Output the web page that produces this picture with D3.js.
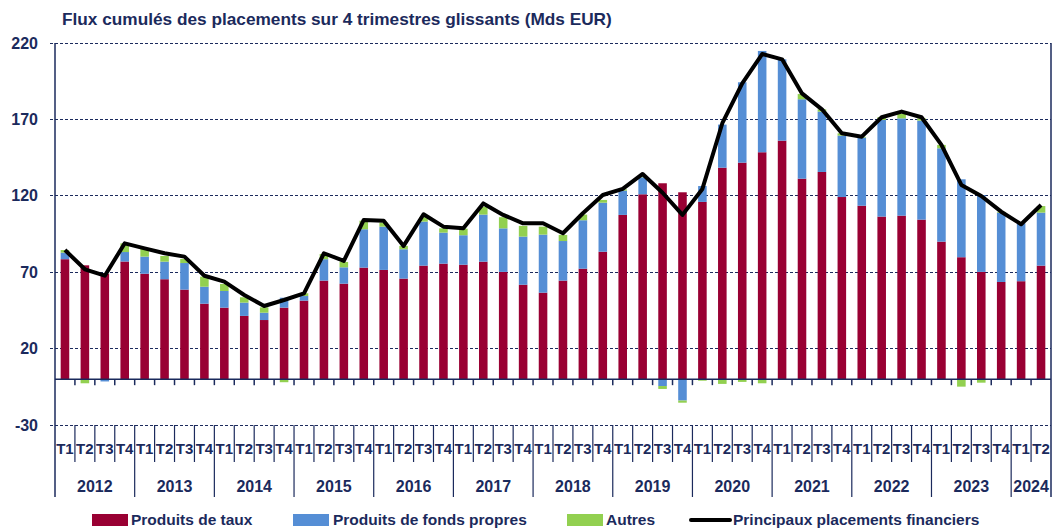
<!DOCTYPE html>
<html>
<head>
<meta charset="utf-8">
<script src="https://cdn.jsdelivr.net/npm/d3@7/dist/d3.min.js"></script>
<style>
  html, body { margin: 0; padding: 0; background: #ffffff; }
  svg { display: block; }
  text { font-family: "Liberation Sans", Arial, sans-serif; font-weight: bold; fill: #1b2a5c; }
</style>
</head>
<body>
<svg id="chart" width="1053" height="529"></svg>
<script>
const title = "Flux cumulés des placements sur 4 trimestres glissants (Mds EUR)";
const years = ["2012","2013","2014","2015","2016","2017","2018","2019","2020","2021","2022","2023","2024"];
const quarterLabels = ["T1","T2","T3","T4"];
const yTicks = [-30, 20, 70, 120, 170, 220];
const seriesNames = ["Produits de taux", "Produits de fonds propres", "Autres"];
const lineName = "Principaux placements financiers";

const produitsTaux = [78.5, 74.5, 69, 77, 69, 65.4, 58.6, 49.4, 46.8, 41.4, 38.7, 46.8, 51.4, 64.5, 62.5, 73, 71.5, 65.8, 74.3, 75.6,
  74.9, 76.9, 70.2, 61.8, 56.6, 64.5, 72.3, 83.4, 107.5, 121, 128.2, 122.3, 116, 138.4, 141.7, 148.5, 156.1, 131.2, 135.6, 119.2,
  113.5, 106.4, 107, 104.4, 90, 79.8, 70.2, 63.6, 64.1, 74.3];
const fondsPropres = [4.3, 0, -1.5, 6.2, 11.2, 11.5, 17.4, 11.1, 10.9, 8.7, 4.8, 6.5, 3, 14, 10.7, 25.1, 28.3, 19.2, 28.8, 20.3,
  19.3, 30.8, 28.5, 31.5, 38, 25.9, 31.7, 32.1, 15.9, 11.1, -4.5, -14, 10.4, 28.2, 52.6, 66.3, 53.2, 52, 39.5, 40.2,
  44.6, 63.2, 63.7, 64.8, 61.1, 51, 50.3, 45.4, 37.9, 34.7];
const autres = [1.7, -2.7, 0, 5.7, 5.3, 3.7, 2.7, 6.6, 4.6, 3.5, 3.5, -2, 1.8, 3.4, 3.5, 5.6, 2.6, 2.2, 2.9, 2.8,
  4.3, 5, 7.3, 7, 5.2, 4, 3.7, 1.8, 0.8, 0.5, -1.9, -1.4, -1, -3.1, -1.8, -2.7, 0, 3.4, 1.5, 1.5,
  0.5, 1.8, 2.9, 1.5, 2.2, -4.9, -2.3, 0.5, 0, 4.3];
const principaux = [84.5, 71.9, 67.7, 88.9, 85.6, 82.4, 80.2, 67.7, 63.8, 55.1, 47.9, 51.8, 56.2, 82.4, 77.4, 104.2, 103.7, 87.2, 107.9, 99.8,
  98.7, 115, 107.5, 102, 102, 95.5, 108.6, 120.5, 124.5, 134.3, 122, 107.5, 124.5, 167.5, 193.6, 212.8, 209.3, 187, 176.6, 160.9,
  158.7, 171.4, 175.1, 171.4, 153.3, 127.1, 119.9, 109.6, 101.4, 114];

const colors = ["#990033", "#558ed5", "#92d050"];
const navy = "#1b2a5c";

// build category list
const cats = [];
years.forEach(yr => {
  const nq = (yr === "2024") ? 2 : 4;
  for (let q = 0; q < nq; q++) cats.push({ year: yr, q: quarterLabels[q], key: yr + quarterLabels[q] });
});
const rows = cats.map((c, i) => ({ key: c.key, taux: produitsTaux[i], fonds: fondsPropres[i], autres: autres[i], total: principaux[i] }));

const svg = d3.select("#chart");
const pL = 55, pR = 1051, pT = 43, pB = 425;
const x = d3.scaleBand().domain(cats.map(c => c.key)).range([pL, pR]).paddingInner(0.57).paddingOuter(0.285);
const step = x.step();
const y = d3.scaleLinear().domain([-30, 220]).range([pB, pT]);

// title
const t = svg.append("text").attr("x", 62).attr("y", 25).attr("font-size", 16).attr("fill", navy).text(title);
const tw = t.node().getComputedTextLength();
t.attr("font-size", 16 * 550 / tw);

// gridlines
svg.append("g").selectAll("line").data(yTicks).join("line")
  .attr("x1", pL - 5).attr("x2", pR).attr("y1", d => y(d)).attr("y2", d => y(d))
  .attr("stroke", navy).attr("stroke-width", 1).attr("stroke-dasharray", "3,2").attr("shape-rendering", "crispEdges");

// y labels
svg.append("g").selectAll("text").data(yTicks).join("text")
  .attr("x", 38).attr("y", d => y(d)).attr("dy", "0.35em").attr("text-anchor", "end")
  .attr("font-size", 16).text(d => d);

// stacked bars
const stack = d3.stack().keys(["taux", "fonds", "autres"]).offset(d3.stackOffsetDiverging);
const stacked = stack(rows);
svg.append("g").selectAll("g").data(stacked).join("g")
  .attr("fill", (d, i) => colors[i])
  .selectAll("rect").data(d => d).join("rect")
  .attr("x", d => x(d.data.key)).attr("width", x.bandwidth())
  .attr("y", d => y(Math.max(d[0], d[1])))
  .attr("height", d => Math.abs(y(d[0]) - y(d[1])));

// zero line + ticks
svg.append("line").attr("x1", pL).attr("x2", pR).attr("y1", y(0)).attr("y2", y(0))
  .attr("stroke", navy).attr("stroke-width", 1.5);
svg.append("g").selectAll("line").data(d3.range(1, cats.length)).join("line")
  .attr("x1", i => pL + i * step).attr("x2", i => pL + i * step)
  .attr("y1", y(0)).attr("y2", y(0) + 6).attr("stroke", navy).attr("stroke-width", 1.5);

// axes frame
svg.append("line").attr("x1", pL).attr("x2", pL).attr("y1", pT).attr("y2", 497).attr("stroke", navy).attr("stroke-width", 1.5);
svg.append("line").attr("x1", pR).attr("x2", pR).attr("y1", pT).attr("y2", 497).attr("stroke", navy).attr("stroke-width", 1.5);

// line series
const line = d3.line().x((d, i) => x(cats[i].key) + x.bandwidth() / 2).y(d => y(d));
svg.append("path").datum(principaux).attr("d", line).attr("fill", "none")
  .attr("stroke", "#000").attr("stroke-width", 4).attr("stroke-linejoin", "round");

// category axis
svg.append("g").selectAll("line").data(d3.range(1, cats.length)).join("line")
  .attr("x1", i => pL + i * step).attr("x2", i => pL + i * step)
  .attr("y1", pB).attr("y2", i => (i % 4 === 0) ? 497 : 462)
  .attr("stroke", navy).attr("stroke-width", 1.2);
svg.append("g").selectAll("text").data(cats).join("text")
  .attr("x", d => x(d.key) + x.bandwidth() / 2).attr("y", 449).attr("dy", "0.35em")
  .attr("text-anchor", "middle").attr("font-size", 15).text(d => d.q);
svg.append("g").selectAll("text").data(years).join("text")
  .attr("x", d => {
    const idx = cats.map(c => c.year);
    const first = idx.indexOf(d), last = idx.lastIndexOf(d);
    const x0 = x(cats[first].key) - (step - x.bandwidth()) / 2;
    const x1 = x(cats[last].key) + x.bandwidth() + (step - x.bandwidth()) / 2;
    return (x0 + x1) / 2;
  })
  .attr("y", 486).attr("dy", "0.35em").attr("text-anchor", "middle").attr("font-size", 16).text(d => d);

// legend
const legend = [
  { name: seriesNames[0], color: colors[0], sx: 92, tx: 131, type: "rect" },
  { name: seriesNames[1], color: colors[1], sx: 293, tx: 333, type: "rect" },
  { name: seriesNames[2], color: colors[2], sx: 567, tx: 606, type: "rect" },
  { name: lineName, color: "#000", sx: 691, tx: 733, type: "line" }
];
const lg = svg.append("g");
legend.forEach(l => {
  if (l.type === "rect") {
    lg.append("rect").attr("x", l.sx).attr("y", 514).attr("width", 36).attr("height", 12).attr("fill", l.color);
  } else {
    lg.append("line").attr("x1", l.sx).attr("x2", l.sx + 39).attr("y1", 520).attr("y2", 520)
      .attr("stroke", l.color).attr("stroke-width", 4).attr("stroke-linecap", "round");
  }
  lg.append("text").attr("x", l.tx).attr("y", 525).attr("font-size", 15.5).text(l.name);
});
</script>
</body>
</html>
